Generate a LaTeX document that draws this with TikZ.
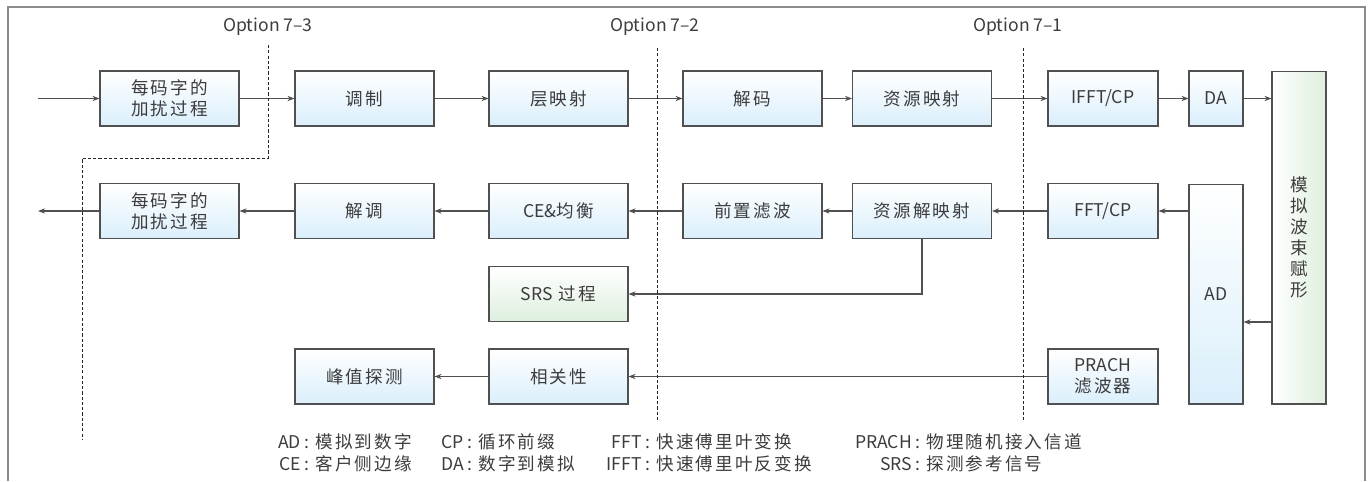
\documentclass[tikz,border=0pt]{standalone}
\usepackage{fontspec}
\setmainfont{Noto Sans CJK SC}[LetterSpace=12]
\newfontfamily\latfont{Noto Sans CJK SC}
\newcommand{\lat}[1]{{\latfont #1}}
\usepackage{tikz}
\usetikzlibrary{arrows.meta}
\definecolor{boxblue}{RGB}{218,239,251}
\definecolor{boxgreen}{RGB}{222,239,222}
\definecolor{txtgray}{RGB}{60,60,60}
\definecolor{linegray}{RGB}{80,80,80}
\definecolor{framegray}{RGB}{140,140,140}

\begin{document}
\begin{tikzpicture}[x=0.02cm,y=-0.02cm,every node/.style={text=txtgray,inner sep=0pt},
	blk/.style={draw=linegray,line width=0.6pt,top color=white,bottom color=boxblue,minimum width=2.78cm,minimum height=1.1cm,align=center},
	narrowblk/.style={blk,minimum width=2.2cm},
	srsblk/.style={blk,bottom color=boxgreen},
	beamblk/.style={draw=linegray,line width=0.6pt,left color=white,right color=boxgreen,minimum width=1.08cm,minimum height=6.66cm,align=center},
	arr/.style={draw=linegray,line width=0.6pt,-{Stealth[length=4pt,width=3pt]}},
	cut/.style={draw=black!85,line width=0.5pt,dash pattern=on 1.8pt off 1.2pt}]
	
	\useasboundingbox (0,0) rectangle (1370,481);
	\draw[framegray,line width=1.2pt] (8,481) |- (1365,7) -- (1365,481);
	
	\node[blk] (scr1) at (169.5,98.5) {每码字的\\加扰过程};
	\node[blk] (mod) at (364.5,98.5) {调制};
	\node[blk] (lmap) at (558.5,98.5) {层映射};
	\node[blk] (dec) at (752.5,98.5) {解码};
	\node[blk] (rmap) at (922,98.5) {资源映射};
	\node[narrowblk] (ifft) at (1103,98.5) {\lat{IFFT/CP}};
	\node[blk,minimum width=1.08cm] (da) at (1216,98.5) {\lat{DA}};
	\node[beamblk] (bf) at (1299,237.5) {模\\拟\\波\\束\\赋\\形};
	
	\node[blk] (scr2) at (169.5,211) {每码字的\\加扰过程};
	\node[blk] (demod) at (364.5,211) {解调};
	\node[blk] (ce) at (558.5,211) {\lat{CE\&}均衡};
	\node[blk] (pre) at (752.5,211) {前置滤波};
	\node[blk] (rdmap) at (922,211) {资源解映射};
	\node[narrowblk] (fft) at (1103,211) {\lat{FFT/CP}};
	\node[blk,minimum width=1.08cm,minimum height=4.4cm] (ad) at (1216,294) {\lat{AD}};
	
	\node[srsblk] (srs) at (558.5,294) {\lat{SRS} 过程};
	\node[blk] (peak) at (364.5,376.5) {峰值探测};
	\node[blk] (corr) at (558.5,376.5) {相关性};
	\node[narrowblk] (prach) at (1103,376.5) {\lat{PRACH}\\滤波器};
	
	\coordinate (in) at (38,98.5);
	\coordinate (out) at (38,211);
	\coordinate (bfout) at (1272,322);
	
	\draw[arr] (in) -- (scr1);
	\foreach \a/\b in {scr1/mod,mod/lmap,lmap/dec,dec/rmap,rmap/ifft,ifft/da}
		\draw[arr] (\a) -- (\b);
	\draw[arr] (da) -- (da -| bf.west);
	\draw[arr] (bfout) -- (bfout -| ad.east);
	\draw[arr] (ad.west |- fft) -- (fft);
	\foreach \a/\b in {fft/rdmap,rdmap/pre,pre/ce,ce/demod,demod/scr2}
		\draw[arr] (\a) -- (\b);
	\draw[arr] (scr2) -- (out);
	\draw[arr] (rdmap) |- (srs);
	\draw[arr] (prach) -- (corr);
	\draw[arr] (corr) -- (peak);
	
	\node (opt3) at (268,27) {\lat{Option 7\textendash3}};
	\node (opt2) at (655,27) {\lat{Option 7\textendash2}};
	\node (opt1) at (1018,27) {\lat{Option 7\textendash1}};
	\draw[cut] (268,45) |- (82,158) -- (82,440);
	\draw[cut] (657,48) -- (657,422);
	\draw[cut] (1023,48) -- (1023,420);
	
	\foreach \x/\y/\ab/\txt [count=\i] in {304/448/AD/模拟到数字,304/470/CE/客户侧边缘,467/448/CP/循环前缀,467/470/DA/数字到模拟,645/448/FFT/快速傅里叶变换,645/470/IFFT/快速傅里叶反变换,915/448/PRACH/物理随机接入信道,915/470/SRS/探测参考信号}
		\node[anchor=base west] (key\i) at (\x,\y) {\llap{\lat{\ab}\hspace{2pt}}\lat{:}\hspace{3.5pt}\txt};
\end{tikzpicture}
\end{document}
